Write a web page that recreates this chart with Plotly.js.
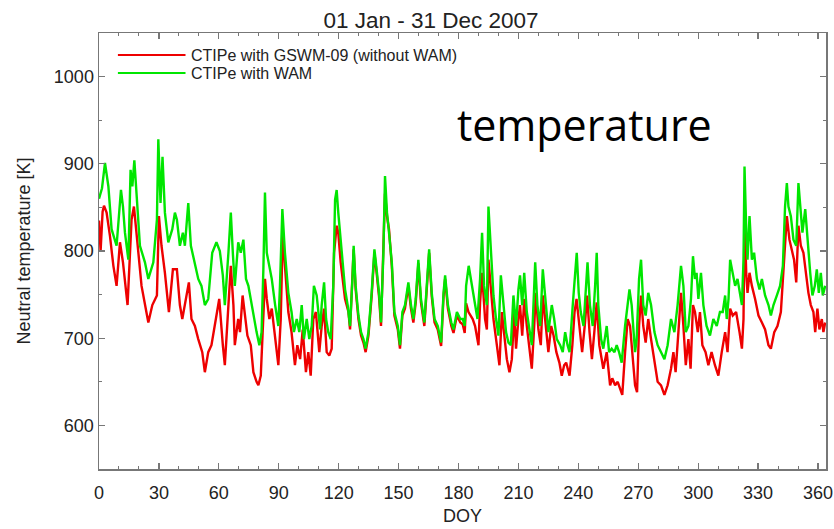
<!DOCTYPE html>
<html>
<head>
<meta charset="utf-8">
<script src="https://cdn.plot.ly/plotly-3.0.1.min.js"></script>
<style>html,body{margin:0;padding:0;background:#fff;}#chart{width:834px;height:529px;}</style>
</head>
<body>
<div id="chart"></div>
<script>
const chartTitle = '01 Jan - 31 Dec 2007';
const seriesNames = ['CTIPe with GSWM-09 (without WAM)', 'CTIPe with WAM'];
const xTickVals = [0, 30, 60, 90, 120, 150, 180, 210, 240, 270, 300, 330, 360];
const yTickVals = [600, 700, 800, 900, 1000];

const wamDoy = [0,1.5,3,4.7,6.3,8,8.8,11,12,13,14.7,15.8,16.7,17.7,18.8,20.5,23,24.7,27.2,29,29.7,30.8,31.8,33,34.7,36.7,38,39,40.5,42,43,44.7,46,47.7,49.7,51.3,53,54.7,56.7,58.8,60.5,62,63,64.8,66,67,68,69.7,71,72.3,73.6,74.8,76.4,78.9,80.3,81.4,82.3,83.1,84,85.3,86.5,88.2,89.8,90.6,91.8,93.1,94.8,96.4,97.6,99,100.3,101.5,102.6,104,105.3,106.5,107.6,109,110.7,111.5,112.7,113.7,114.8,116,117.3,118.2,119,119.8,120.7,122.4,123.2,124.5,125.7,126.9,127.5,128.5,129.9,131.2,132.4,133.5,134.9,136.5,137.9,139,140.2,141.2,142.4,143.2,144.2,145.2,146.6,147.9,149.6,150.7,151.9,153.2,154.9,156.2,157.4,158.6,159.9,161.2,162.9,164.1,165.3,166.6,168,169.6,171.3,172.5,173.3,174.7,176.4,177.5,179.2,180.9,182.1,183.1,183.8,185.1,186.4,188.3,189.5,190.8,191.8,192.8,194.2,195,196.2,197.5,198.8,200,201.2,202.5,203.8,205,206.2,207.5,208.8,210,210.8,211.9,212.9,214.2,215.5,216.7,218.4,219.5,220.9,222.2,223.5,225,226.7,227.9,229.2,230.9,232.2,233.4,234.6,235.6,237.2,238.4,239.2,240.2,241.2,242.6,243.7,244.6,245.8,247.2,248.4,249.2,250,251.4,252.5,254.2,255.4,256.7,258.1,259.2,260.4,261.7,263.4,264.7,265.6,266.7,268.4,269.2,270.4,271.4,272.5,273.7,275,276.4,278.1,279.7,281.4,283.1,284.7,286.4,288.1,289.7,291.4,292.6,293.8,295.1,296.4,297.4,298.4,299.2,300.1,301.4,302.6,304.2,305.9,307.6,309.3,310.9,312.3,313.5,314.3,315.2,316,317.3,318.5,319.7,320.7,321.9,322.7,323.2,324.1,324.7,325.7,326.9,328,329.4,330.7,331.9,333.5,335.2,336.4,337.7,339.4,341,342.4,343.5,344.4,345.2,346.4,347.7,349.1,350.2,351,352.2,353.6,354.7,356.1,357.2,358.4,359.4,360.4,361.4,362.4,363.6];
const wamTemp = [860,872,901,874,825,810,806,870,851,821,790,893,874,904,863,806,787,768,787,836,928,855,908,844,810,825,844,836,806,821,806,855,806,787,768,760,738,745,798,810,800,772,738,798,844,798,760,810,798,813,768,760,738,707,692,707,779,867,798,783,768,738,714,760,848,798,752,730,707,722,707,738,699,722,699,714,760,749,710,738,764,722,707,699,760,859,870,844,821,779,756,738,714,768,806,760,726,707,699,688,707,752,802,779,752,718,798,886,844,821,787,730,714,692,730,738,764,738,722,745,790,745,718,760,802,752,722,714,695,752,772,738,718,710,730,722,722,714,760,783,765,738,722,768,821,760,738,851,798,749,722,703,772,738,707,695,692,749,714,756,772,738,775,730,707,692,787,738,714,779,745,707,738,722,699,692,684,707,692,684,738,779,798,752,730,714,760,787,738,714,760,798,738,699,688,714,684,688,684,692,684,672,714,738,756,738,684,699,768,790,738,726,752,738,707,692,684,676,692,722,707,738,783,760,707,714,745,794,768,775,745,775,738,714,703,722,714,730,730,749,722,745,790,775,760,768,752,738,790,897,821,790,840,790,798,768,756,768,749,738,726,738,749,760,783,851,878,851,840,813,806,878,855,821,848,813,775,749,760,779,752,775,749,760];

const gswmDoy = [0,0.8,1.8,2.5,3.8,5.5,7.2,8.8,10.5,12,14.3,16.3,17.5,18.8,21.3,24.7,26.7,29,30,31.3,33,35,37,39,40.5,41.7,43,45,46.3,48,49.7,51.7,53,54.7,56.3,58.2,60.2,62,63,64.8,66,67.3,68,69.7,70.6,71.9,73.1,74.3,76,77.3,78.9,79.8,81,82,83.1,84,85.3,86.5,88.2,89.8,91,92,93.1,94.8,96.4,98.1,99.3,100.7,102,103.6,104.8,106,107.3,108.6,110.3,111.5,112.7,114,115.3,116.5,117.7,119,119.8,121,123.2,124.9,125.7,126.9,127.5,128.5,129.9,131.2,132.4,133.5,134.9,136.5,137.9,139,140.2,141.2,142.4,143.2,144.2,145.2,146.6,147.9,149.6,150.7,151.9,153.2,154.9,156.2,157.4,158.6,159.9,161.2,162.9,164.1,165.3,166.6,168,169.6,171.3,172.5,173.3,174.7,176.4,177.5,179.2,180.9,182.1,183.1,183.8,185,187.1,188.3,190,190.8,191.8,193.3,194.2,195,196.2,197.5,199.2,200.5,201.7,202.8,204.2,205.5,206.7,207.9,208.8,210,210.8,211.9,212.9,214.2,215.5,216.7,217.9,218.7,220,221.2,222.2,223.5,225,226.4,227.6,229,230.5,231.7,232.9,233.9,235.6,237,238.1,239.1,240.2,241.9,243.2,244.4,245.6,246.8,248,249.2,250.5,252.5,254.2,255.9,257,258.4,259.7,260.9,262,263.4,264.7,265.9,267.1,268.4,269.4,270.4,271.4,272.5,273.7,275,276.4,278.1,279.7,281.4,283.1,284.7,286.4,287.6,288.7,290.1,291.4,292.6,293.8,295.1,296.2,297.4,298.4,299.8,300.9,302.1,303.7,305.1,306.7,308.4,310.1,311.8,313.5,314.7,316,317.3,319,320.7,321.9,322.7,323.2,324.1,324.7,325.7,326.9,328.5,330.2,331.9,333.5,335.2,336.4,338.1,339.7,341.4,342.7,344.4,345.7,346.9,348,349.1,350.2,351.4,352.7,354.1,355.2,356.4,357.7,358.6,359.7,360.7,361.9,362.7,363.6];
const gswmTemp = [835,800,845,852,844,817,783,760,810,787,738,836,851,817,760,718,738,749,840,806,775,730,779,779,738,722,738,764,722,714,699,684,661,684,692,720,745,692,669,738,783,738,692,722,707,749,722,703,692,661,650,646,657,707,768,745,722,734,699,669,722,821,783,730,707,669,692,676,710,661,684,657,722,730,684,714,734,684,680,688,798,829,821,787,745,730,710,764,802,756,722,703,695,684,703,748,798,775,748,714,794,866,840,825,783,726,710,688,726,734,760,734,718,741,786,741,714,756,798,748,718,710,691,748,768,734,714,706,726,718,716,706,740,730,722,714,692,741,775,722,710,790,760,722,692,669,730,707,676,661,676,730,688,722,738,703,745,714,684,665,714,752,710,692,749,722,684,714,703,684,672,657,669,672,657,692,730,745,722,684,714,749,707,676,707,741,692,665,684,646,654,646,650,642,635,684,722,714,676,646,638,714,749,714,695,722,699,676,650,646,635,646,665,684,661,707,752,714,669,699,665,738,730,707,730,692,684,669,684,669,657,684,707,684,734,726,730,707,688,722,840,772,752,775,760,745,726,718,710,692,688,707,714,730,783,840,813,802,790,764,829,806,798,772,752,738,730,707,734,710,722,707,718];

const seriesColors = ['#ee0000', '#00e600'];

const traces = [
  {x: gswmDoy, y: gswmTemp, type: 'scatter', mode: 'lines', name: seriesNames[0],
   line: {color: seriesColors[0], width: 2.4}, showlegend: false},
  {x: wamDoy, y: wamTemp, type: 'scatter', mode: 'lines', name: seriesNames[1],
   line: {color: seriesColors[1], width: 2.4}, showlegend: false}
];

const axisFont = {family: 'Liberation Sans, Arial, sans-serif', size: 18, color: '#222'};
const lineCol = '#777';

// manual legend (paper coords)
const legRows = [0.9495, 0.908];
const shapes = legRows.map((yy, i) => ({type: 'line', xref: 'paper', yref: 'paper',
  x0: 0.026, x1: 0.119, y0: yy, y1: yy, line: {color: seriesColors[i], width: 2}}));
const annotations = legRows.map((yy, i) => ({xref: 'paper', yref: 'paper', x: 0.124, y: yy,
  xanchor: 'left', yanchor: 'middle', showarrow: false, text: seriesNames[i],
  font: {family: 'Liberation Sans, Arial, sans-serif', size: 16, color: '#222'}}));
annotations.push({xref: 'paper', yref: 'paper', x: 0.6685, y: 0.789, xanchor: 'center', yanchor: 'middle',
  showarrow: false, text: 'temperature', font: {family: 'Open Sans, sans-serif', size: 43, color: '#000'}});

const layout = {
  width: 834, height: 529,
  margin: {l: 99, r: 8, t: 33, b: 60},
  paper_bgcolor: '#fff', plot_bgcolor: '#fff',
  showlegend: false,
  title: {text: chartTitle, x: 431/834, xref: 'container', xanchor: 'center',
          y: 1 - 20/529, yref: 'container', yanchor: 'middle',
          font: {family: 'Liberation Sans, Arial, sans-serif', size: 22.5, color: '#222'}},
  xaxis: {range: [0, 364], tickvals: xTickVals, ticks: 'inside', ticklen: 6, tickwidth: 1.2, tickcolor: lineCol,
          showline: true, linecolor: lineCol, linewidth: 1.5, mirror: 'ticks', ticklabelstandoff: 7,
          minor: {dtick: 10, tick0: 0, ticks: 'inside', ticklen: 3, tickcolor: lineCol, tickwidth: 1},
          showgrid: false, zeroline: false, tickfont: axisFont,
          title: {text: 'DOY', font: axisFont, standoff: 7}},
  yaxis: {range: [550, 1050], tickvals: yTickVals, ticks: 'inside', ticklen: 6, tickwidth: 1.2, tickcolor: lineCol,
          showline: true, linecolor: lineCol, linewidth: 1.5, mirror: 'ticks',
          minor: {dtick: 50, tick0: 550, ticks: 'inside', ticklen: 3, tickcolor: lineCol, tickwidth: 1},
          showgrid: false, zeroline: false, tickfont: axisFont,
          title: {text: 'Neutral temperature [K]', font: axisFont, standoff: 18}},
  shapes: shapes,
  annotations: annotations
};

Plotly.newPlot('chart', traces, layout, {displayModeBar: false, staticPlot: true});
</script>
</body>
</html>
